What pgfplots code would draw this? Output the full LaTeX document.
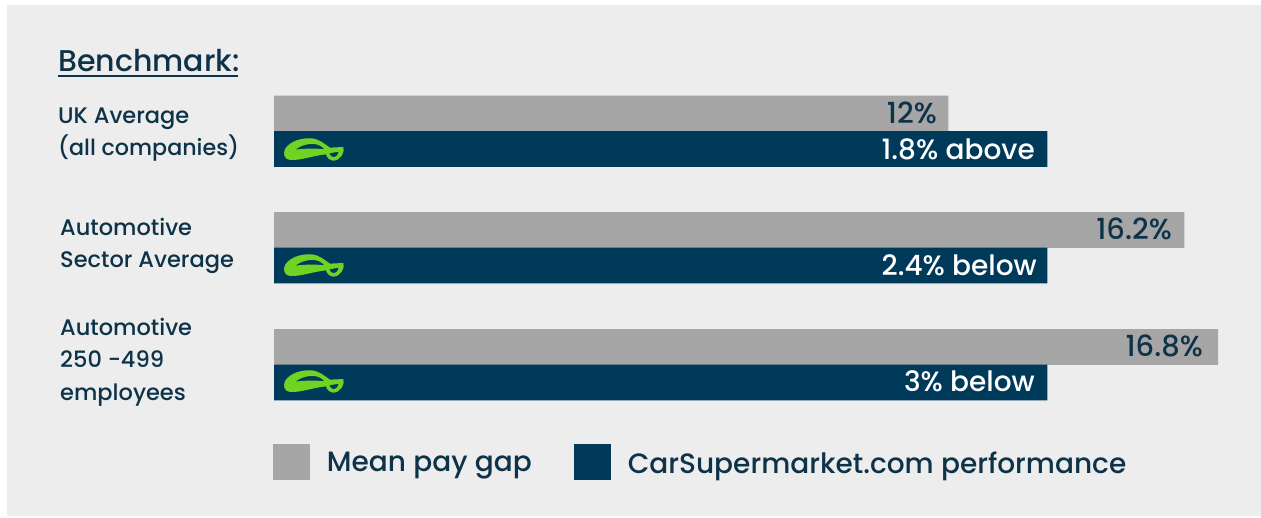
\documentclass[border=0pt]{standalone}
\usepackage{fontspec}
\setmainfont{Poppins Medium}
\usepackage{pgfplots}
\pgfplotsset{compat=1.18}
\definecolor{bgc}{HTML}{EDEDED}
\definecolor{greyb}{HTML}{A6A6A6}
\definecolor{navy}{HTML}{003A5A}
\definecolor{txt}{HTML}{0E3349}
\definecolor{lime}{HTML}{6FD321}
\newcommand\T[4][]{\node[anchor=base west,inner sep=0pt,text=txt,font=\fontsize{22.5}{23}\selectfont,#1] at (#2pt,{517pt-#3pt}) {#4};}
\newcommand\V[4][white]{\node[anchor=base east,inner sep=0pt,text=#1,font=\fontsize{28}{27}\selectfont] at (#2pt,{517pt-#3pt}) {#4};}
\newcommand\G[3]{\node[anchor=base east,inner sep=0pt,text=txt,font=\fontsize{29}{27}\selectfont] at (#1pt,{517pt-#2pt}) {#3};}
\newcommand\logo[1]{\begin{scope}[shift={(270pt,{517pt-#1pt})},yshift=24pt,x=0.3333pt,y=-0.3333pt]
\fill[lime,even odd rule] (45,72) .. controls (60,48) and (95,38) .. (125,40) .. controls (150,43) and (165,58) .. (180,68) -- (220,66) .. controls (226,80) and (212,107) .. (190,107) .. controls (178,106) and (170,97) .. (168,88) .. controls (130,92) and (90,107) .. (60,105) .. controls (43,104) and (38,85) .. (45,72) -- cycle
(77,74) .. controls (92,60) and (125,52) .. (145,60) .. controls (155,64) and (160,69) .. (163,73) .. controls (130,69) and (100,71) .. (77,74) -- cycle
(178,85) -- (206,80) .. controls (204,92) and (195,98) .. (188,96) .. controls (183,95) and (180,90) .. (178,85) -- cycle;
\end{scope}}
\begin{document}
\begin{tikzpicture}
\fill[white] (0pt,0pt) rectangle (1261pt,517pt);
\fill[bgc] (7pt,1pt) rectangle (1261pt,512pt);
\begin{axis}[
  at={(0pt,0pt)},anchor=south west,
  scale only axis,width=1261pt,height=517pt,
  xmin=-4.8754,xmax=17.5623,ymin=0,ymax=517,y dir=reverse,
  hide axis,clip=false,
  xbar,bar shift=0pt,bar width=35.6pt,
  legend style={at={(axis cs:-0.02,461.5)},anchor=west,draw=none,fill=none,
    legend columns=2,font=\fontsize{28}{27}\selectfont,text=txt,
    /tikz/every even column/.style={column sep=40pt},
    inner sep=0pt,outer sep=0pt},
  legend image code/.code={\fill[#1] (0pt,-16.5pt) rectangle (37pt,19.5pt);},
]
\addplot[fill=greyb,draw=none] coordinates {(12,113.5) (16.2,230) (16.8,347)};
\addlegendentry{\hspace{15pt}Mean pay gap}
\addplot[fill=navy,draw=none] coordinates {(13.76,149) (13.76,265.5) (13.76,382.5)};
\addlegendentry{\hspace{15pt}CarSupermarket.com performance}
\end{axis}
\logo{149}\logo{265}\logo{381}
\G{937}{124}{12\%}
\V{1035}{160}{1.8\% above}
\G{1172}{240}{16.2\%}
\V{1037}{276}{2.4\% below}
\G{1203}{357}{16.8\%}
\V{1035}{392}{3\% below}
\T[font=\fontsize{30}{30}\selectfont]{58}{72}{Benchmark:}
\fill[txt] (58pt,{517pt-77pt}) rectangle (238pt,{517pt-75.5pt});
\T{58}{124}{UK Average}
\T[font=\fontsize{22.2}{23}\selectfont]{58}{156}{(all companies)}
\T{60}{236}{Automotive}
\T{60}{268}{Sector Average}
\T{60}{336}{Automotive}
\T{60}{368}{250 -499}
\T{60}{400}{employees}
\end{tikzpicture}
\end{document}
